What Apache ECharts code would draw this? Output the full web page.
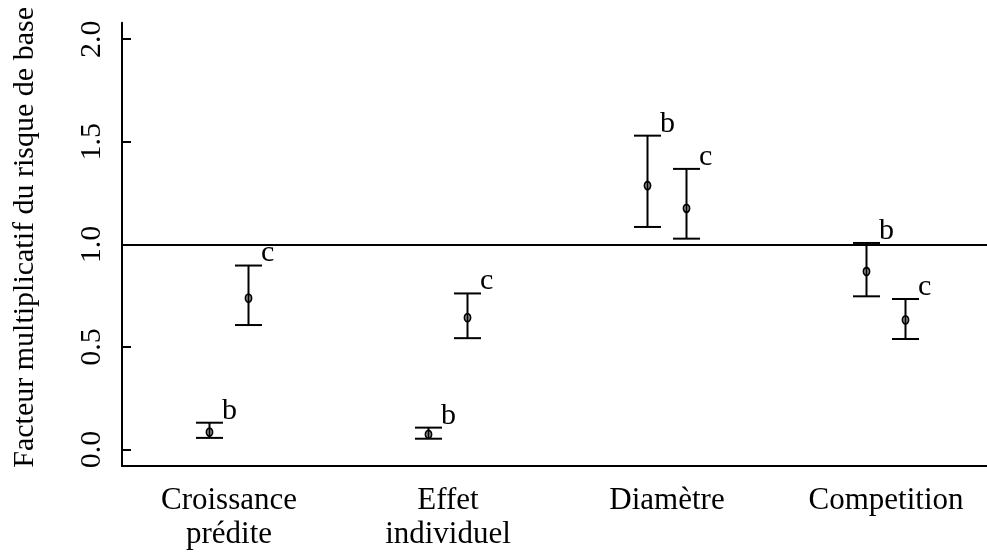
<!DOCTYPE html>
<html>
<head>
<meta charset="utf-8">
<script src="https://cdn.jsdelivr.net/npm/echarts@6/dist/echarts.min.js"></script>
<style>
  html, body { margin: 0; padding: 0; background: #fff; }
  #chart { width: 987px; height: 552px; }
</style>
</head>
<body>
<div id="chart"></div>
<script>
// ---- data ----
const categories = ['Croissance\nprédite', 'Effet\nindividuel', 'Diamètre', 'Competition'];
const groupNames = ['b', 'c'];
const estB  = [0.085, 0.074, 1.287, 0.868];
const lowB  = [0.057, 0.053, 1.085, 0.747];
const highB = [0.131, 0.107, 1.530, 1.007];
const estC  = [0.738, 0.643, 1.176, 0.632];
const lowC  = [0.607, 0.543, 1.028, 0.539];
const highC = [0.897, 0.761, 1.368, 0.734];
const yTicks = [0, 0.5, 1, 1.5, 2];
const yTickLabels = ['0.0', '0.5', '1.0', '1.5', '2.0'];
const refValue = 1.0;
const yTitle = 'Facteur multiplicatif du risque de base';

// ---- style / layout ----
const FONT = 'Liberation Serif';
const groupOffsetPx = [-19.5, 19.5];
const capHalf = 13.5;

function buildData(est, low, high) {
  return categories.map((c, i) => [i + 1, low[i], est[i], high[i]]);
}

function makeRender(gi) {
  return function (params, api) {
    const x = api.value(0);
    const pLow = api.coord([x, api.value(1)]);
    const pEst = api.coord([x, api.value(2)]);
    const pHigh = api.coord([x, api.value(3)]);
    const cx = pEst[0] + groupOffsetPx[gi];
    const ls = { stroke: '#000', lineWidth: 2 };
    return {
      type: 'group',
      children: [
        { type: 'line', shape: { x1: cx, y1: pLow[1], x2: cx, y2: pHigh[1] }, style: ls },
        { type: 'line', shape: { x1: cx - capHalf, y1: pLow[1], x2: cx + capHalf, y2: pLow[1] }, style: ls },
        { type: 'line', shape: { x1: cx - capHalf, y1: pHigh[1], x2: cx + capHalf, y2: pHigh[1] }, style: ls },
        { type: 'ellipse', shape: { cx: cx, cy: pEst[1], rx: 3, ry: 4 }, style: { stroke: '#000', lineWidth: 1.8, fill: 'rgba(0,0,0,0.2)' } },
        { type: 'text', style: { text: groupNames[gi], x: cx + capHalf - 1, y: pHigh[1] + 3, font: '30px "' + FONT + '"', fill: '#000', textAlign: 'left', textVerticalAlign: 'bottom' } }
      ]
    };
  };
}

const chart = echarts.init(document.getElementById('chart'), null, { renderer: 'canvas' });
chart.setOption({
  animation: false,
  backgroundColor: '#fff',
  grid: { left: 122, right: 0, top: 22.8, bottom: 84.5, containLabel: false },
  xAxis: {
    type: 'value',
    min: 0.5114,
    max: 4.4612,
    splitLine: { show: false },
    axisLine: { show: true, onZero: false, lineStyle: { color: '#000', width: 2 } },
    axisTick: { show: false },
    axisLabel: {
      customValues: [1, 2, 3, 4],
      formatter: function (v) { return categories[Math.round(v) - 1] || ''; },
      fontFamily: FONT, fontSize: 31, color: '#000', lineHeight: 34, margin: 18,
      verticalAlign: 'top'
    }
  },
  yAxis: {
    type: 'value',
    min: -0.08,
    max: 2.08,
    name: yTitle,
    nameLocation: 'middle',
    nameRotate: 90,
    nameGap: 82,
    nameTextStyle: { fontFamily: FONT, fontSize: 30, color: '#000', padding: [0, 0, 0, 14] },
    splitLine: { show: false },
    axisLine: { show: true, onZero: false, lineStyle: { color: '#000', width: 2 } },
    axisTick: { show: true, inside: true, length: 9, customValues: yTicks, lineStyle: { color: '#000', width: 2 } },
    axisLabel: {
      customValues: yTicks,
      formatter: function (v) {
        const i = yTicks.findIndex(t => Math.abs(t - v) < 1e-9);
        return i >= 0 ? yTickLabels[i] : '';
      },
      rotate: 90,
      margin: 15,
      fontFamily: FONT, fontSize: 30, color: '#000'
    }
  },
  series: [
    {
      type: 'custom',
      name: groupNames[0],
      renderItem: makeRender(0),
      data: buildData(estB, lowB, highB),
      encode: { x: 0, y: [1, 2, 3] },
      clip: false,
      markLine: {
        silent: true,
        symbol: ['none', 'none'],
        label: { show: false },
        lineStyle: { color: '#000', width: 2, type: 'solid' },
        data: [{ yAxis: refValue }]
      }
    },
    {
      type: 'custom',
      name: groupNames[1],
      renderItem: makeRender(1),
      data: buildData(estC, lowC, highC),
      encode: { x: 0, y: [1, 2, 3] },
      clip: false
    }
  ]
});
</script>
</body>
</html>
